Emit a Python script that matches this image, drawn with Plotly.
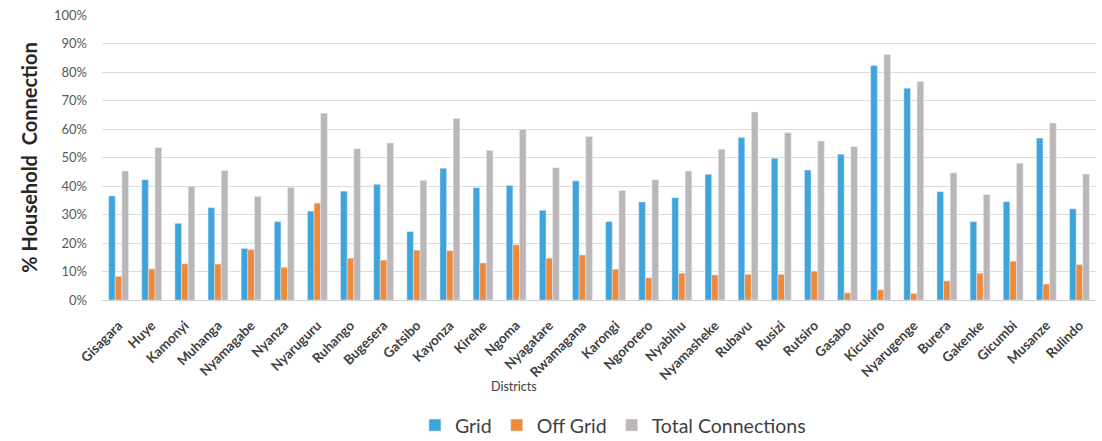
import plotly.graph_objects as go

districts = [
    "Gisagara", "Huye", "Kamonyi", "Muhanga", "Nyamagabe", "Nyanza", "Nyaruguru",
    "Ruhango", "Bugesera", "Gatsibo", "Kayonza", "Kirehe", "Ngoma", "Nyagatare",
    "Rwamagana", "Karongi", "Ngororero", "Nyabihu", "Nyamasheke", "Rubavu", "Rusizi",
    "Rutsiro", "Gasabo", "Kicukiro", "Nyarugenge", "Burera", "Gakenke", "Gicumbi",
    "Musanze", "Rulindo",
]

grid = [
    36.5, 42.2, 26.9, 32.4, 18.1, 27.5, 31.2,
    38.2, 40.6, 24.0, 46.2, 39.4, 40.2, 31.5,
    41.8, 27.5, 34.4, 35.9, 44.1, 57.0, 49.7,
    45.6, 51.1, 82.3, 74.3, 38.0, 27.5, 34.5,
    56.8, 32.0,
]

off_grid = [
    8.3, 10.9, 12.7, 12.6, 17.7, 11.5, 34.0,
    14.7, 14.0, 17.5, 17.3, 13.0, 19.4, 14.7,
    15.8, 10.8, 7.8, 9.4, 8.8, 9.0, 9.0,
    10.1, 2.5, 3.6, 2.3, 6.7, 9.4, 13.6,
    5.6, 12.4,
]

total = [
    45.3, 53.5, 39.9, 45.4, 36.3, 39.5, 65.5,
    53.1, 55.1, 42.0, 63.7, 52.5, 59.8, 46.4,
    57.4, 38.4, 42.2, 45.3, 52.9, 66.0, 58.7,
    55.8, 53.8, 86.1, 76.7, 44.6, 37.0, 48.0,
    62.1, 44.2,
]

y_ticks = list(range(0, 101, 10))
y_tick_labels = [f"{v}%" for v in y_ticks]

FONT = "Lato, 'Open Sans', sans-serif"
TEXT = "#404040"

fig = go.Figure()
fig.add_trace(go.Bar(name="Grid", x=districts, y=grid, marker_color="#3ea4dc"))
fig.add_trace(go.Bar(name="Off Grid", x=districts, y=off_grid, marker_color="#ef8a3a"))
fig.add_trace(go.Bar(name="Total Connections", x=districts, y=total, marker_color="#bdb6b9"))

fig.update_layout(
    width=1102,
    height=441,
    margin=dict(l=102, r=6, t=15, b=141, autoexpand=False),
    paper_bgcolor="white",
    plot_bgcolor="white",
    barmode="group",
    bargap=0.40,
    bargroupgap=0,
    font=dict(family=FONT, color=TEXT),
    showlegend=True,
    legend=dict(
        orientation="h",
        x=0.514,
        xanchor="center",
        y=-0.44,
        yanchor="middle",
        font=dict(size=19.5, color=TEXT),
        itemwidth=30,
        tracegroupgap=0,
        bgcolor="rgba(0,0,0,0)",
    ),
    xaxis=dict(
        tickangle=-45,
        tickfont=dict(size=13.5, color=TEXT, family=FONT, weight="bold"),
        ticklabelstandoff=14,
        showgrid=False,
        showline=False,
        ticks="",
        automargin=False,
    ),
    yaxis=dict(
        range=[0, 100],
        tickvals=y_ticks,
        ticktext=y_tick_labels,
        tickfont=dict(size=13, color="#595959"),
        ticklabelstandoff=14,
        showgrid=True,
        gridcolor="#dcdcdc",
        gridwidth=1,
        zeroline=True,
        zerolinecolor="#d0d0d0",
        zerolinewidth=1,
        showline=False,
        automargin=False,
        title=dict(
            text="% Household  Connection",
            font=dict(size=20, color="#262626", family=FONT, weight="bold"),
            standoff=10,
        ),
    ),
    annotations=[
        dict(
            text="Districts",
            xref="paper",
            yref="paper",
            x=0.414,
            y=-0.302,
            xanchor="center",
            yanchor="middle",
            showarrow=False,
            font=dict(size=12.5, color=TEXT, family=FONT),
        )
    ],
)

fig.write_html("out.html")
